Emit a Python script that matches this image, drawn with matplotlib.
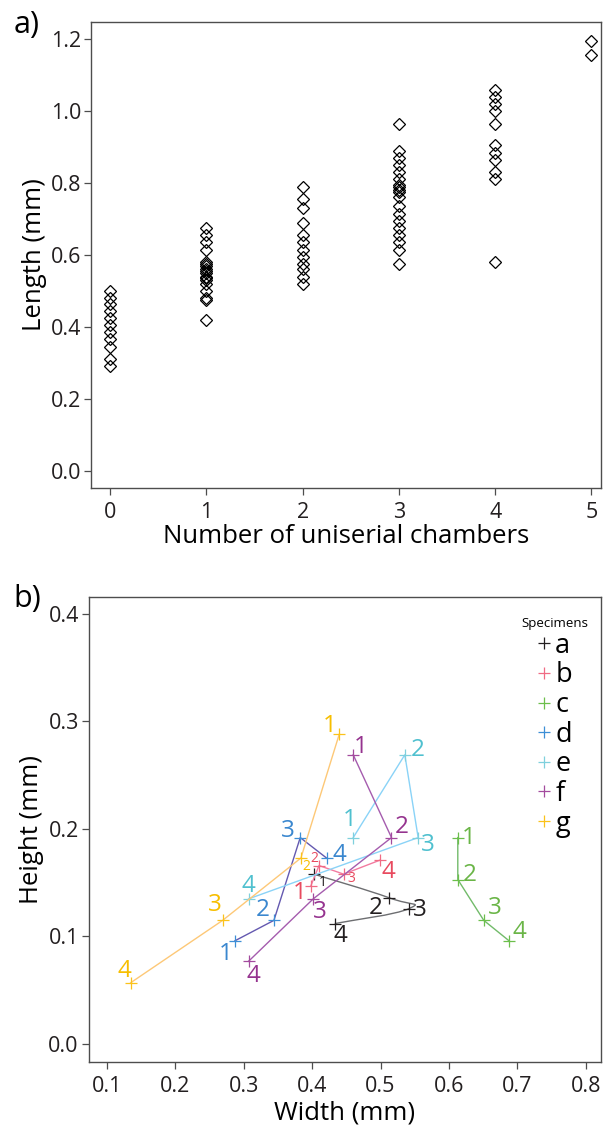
import numpy as np
import matplotlib
matplotlib.use("Agg")
import matplotlib.pyplot as plt
from matplotlib.path import Path
from matplotlib.patches import PathPatch
from matplotlib.lines import Line2D

plt.rcParams['font.family'] = ['Open Sans', 'DejaVu Sans']

# a) length by number of uniserial chambers
chambers = [0, 1, 2, 3, 4, 5]
len0 = [0.50, 0.48, 0.465, 0.445, 0.425, 0.405, 0.385, 0.365, 0.345, 0.31, 0.29]
len1 = [0.675, 0.655, 0.635, 0.615, 0.58, 0.575, 0.57, 0.56, 0.555, 0.55, 0.54,
        0.535, 0.53, 0.52, 0.50, 0.48, 0.475, 0.42]
len2 = [0.79, 0.755, 0.73, 0.69, 0.655, 0.635, 0.615, 0.595, 0.575, 0.56, 0.54, 0.52]
len3 = [0.965, 0.89, 0.87, 0.85, 0.83, 0.81, 0.795, 0.79, 0.78, 0.775, 0.76, 0.735,
        0.715, 0.695, 0.675, 0.655, 0.635, 0.615, 0.575]
len4 = [1.06, 1.04, 1.02, 1.0, 0.965, 0.905, 0.885, 0.865, 0.83, 0.81, 0.58]
len5 = [1.195, 1.155]
lengths = [len0, len1, len2, len3, len4, len5]

# b) chamber width / height per specimen, chambers 1..4
specimens = ['a', 'b', 'c', 'd', 'e', 'f', 'g']
chamber_no = ['1', '2', '3', '4']
width = {
    'a': [0.4025, 0.5126, 0.5418, 0.433],
    'b': [0.398, 0.41, 0.446, 0.499],
    'c': [0.613, 0.613, 0.651, 0.688],
    'd': [0.287, 0.344, 0.3825, 0.421],
    'e': [0.46, 0.5355, 0.555, 0.307],
    'f': [0.46, 0.516, 0.4015, 0.307],
    'g': [0.4395, 0.3835, 0.269, 0.1345],
}
height = {
    'a': [0.158, 0.136, 0.126, 0.112],
    'b': [0.147, 0.166, 0.158, 0.171],
    'c': [0.192, 0.153, 0.115, 0.096],
    'd': [0.096, 0.115, 0.192, 0.173],
    'e': [0.192, 0.269, 0.192, 0.135],
    'f': [0.269, 0.192, 0.135, 0.077],
    'g': [0.288, 0.173, 0.115, 0.057],
}

# styling
mark_col = {'a': '#231f20', 'b': '#f06b84', 'c': '#6cbf4b', 'd': '#3d8fd6',
            'e': '#7fd0dd', 'f': '#a34b9e', 'g': '#fbc21a'}
text_col = {'a': '#231f20', 'b': '#e84a5f', 'c': '#6ab547', 'd': '#3a87cf',
            'e': '#4fc0cf', 'f': '#95338f', 'g': '#f7be00'}
line_col = {'a': '#6d6e71', 'b': '#f27ba0', 'c': '#72bb6a', 'd': '#6459b0',
            'e': '#8ad3f7', 'f': '#a55cae', 'g': '#fdc877'}
# label offsets in pixels (dx, dy)
offs = {
    'a': [(9, -8), (-13, -10), (11, -1), (6, -12)],
    'b': [(-11, -7), (-5, 7), (8, -4), (9, -12)],
    'c': [(11, 0), (12, 5), (11, 12), (10, 9)],
    'd': [(-9, -13), (-11, 10), (-12, 7), (13, 3)],
    'e': [(-3, 18), (13, 5), (10, -7), (0, 13)],
    'f': [(8, 8), (10, 11), (7, -13), (5, -15)],
    'g': [(-9, 8), (5, -8), (-8, 15), (-6, 12)],
}
small = {('a', 0), ('b', 1), ('b', 2), ('g', 1)}

spine_c = '#4d4d4d'


def style_axes(ax):
    for s in ax.spines.values():
        s.set_color(spine_c)
        s.set_linewidth(1.0)
    ax.tick_params(direction='out', length=5, width=0.9, color=spine_c,
                   labelsize=15.5, labelcolor='#231f20')
    ax.tick_params(axis='x', pad=5)
    ax.tick_params(axis='y', pad=2)


fig = plt.figure(figsize=(6.08, 11.33), dpi=100)

# ---- panel a
ax1 = fig.add_axes([0.1497, 0.5696, 0.8388, 0.411])
for c, vals in zip(chambers, lengths):
    ax1.plot([c] * len(vals), vals, 'D', ms=6.3, mfc='none', mec='black', mew=0.9)
ax1.set_xlim(-0.2, 5.1)
ax1.set_ylim(-0.047, 1.248)
ax1.set_xticks(chambers)
ax1.set_yticks(np.arange(0, 1.21, 0.2))
ax1.set_yticklabels(['%.1f' % v for v in np.arange(0, 1.21, 0.2)])
ax1.set_xlabel('Number of uniserial chambers', fontsize=18.5, labelpad=1)
ax1.set_ylabel('Length (mm)', fontsize=18.5, labelpad=3)
style_axes(ax1)
fig.text(0.022, 0.978, 'a)', fontsize=22, ha='left', va='center')

# ---- panel b
ax2 = fig.add_axes([0.1456, 0.0629, 0.8429, 0.4099])
for sp in specimens:
    w = width[sp]
    h = height[sp]
    if sp == 'a':
        # smooth curve through the chambers of specimen a
        pts = np.column_stack([w, h])
        ext = np.vstack([pts[0], pts, pts[-1]])
        verts = [tuple(pts[0])]
        codes = [Path.MOVETO]
        for i in range(1, len(ext) - 2):
            p0, p1, p2, p3 = ext[i - 1], ext[i], ext[i + 1], ext[i + 2]
            verts += [tuple(p1 + (p2 - p0) / 4), tuple(p2 - (p3 - p1) / 4), tuple(p2)]
            codes += [Path.CURVE4] * 3
        ax2.add_patch(PathPatch(Path(verts, codes), fc='none',
                                ec=line_col[sp], lw=1.0))
    else:
        ax2.plot(w, h, '-', color=line_col[sp], lw=1.0)
    ax2.plot(w, h, '+', color=mark_col[sp], ms=8, mew=0.9, ls='none')
    for i, lab in enumerate(chamber_no):
        fs = 10 if (sp, i) in small else 17.5
        ax2.annotate(lab, (w[i], h[i]), xytext=offs[sp][i],
                     textcoords='offset pixels', ha='center', va='center',
                     fontsize=fs, color=text_col[sp])

ax2.set_xlim(0.0728, 0.8225)
ax2.set_ylim(-0.0165, 0.4155)
ax2.set_xticks(np.arange(0.1, 0.81, 0.1))
ax2.set_xticklabels(['%.1f' % v for v in np.arange(0.1, 0.81, 0.1)])
ax2.set_yticks(np.arange(0, 0.41, 0.1))
ax2.set_yticklabels(['%.1f' % v for v in np.arange(0, 0.41, 0.1)])
ax2.set_xlabel('Width (mm)', fontsize=18.5, labelpad=3)
ax2.set_ylabel('Height (mm)', fontsize=18.5, labelpad=3)
style_axes(ax2)
fig.text(0.022, 0.471, 'b)', fontsize=22, ha='left', va='center')

handles = [Line2D([], [], marker='+', ls='none', color=mark_col[sp], ms=8, mew=0.9)
           for sp in specimens]
leg = ax2.legend(handles, specimens, loc='upper right', bbox_to_anchor=(1.012, 0.998),
                 frameon=False, fontsize=19.5, title='Specimens', title_fontsize=9.5,
                 handlelength=0.45, handletextpad=0.2, labelspacing=0.06,
                 borderpad=0.2)

fig.savefig('out.png', dpi=100)
